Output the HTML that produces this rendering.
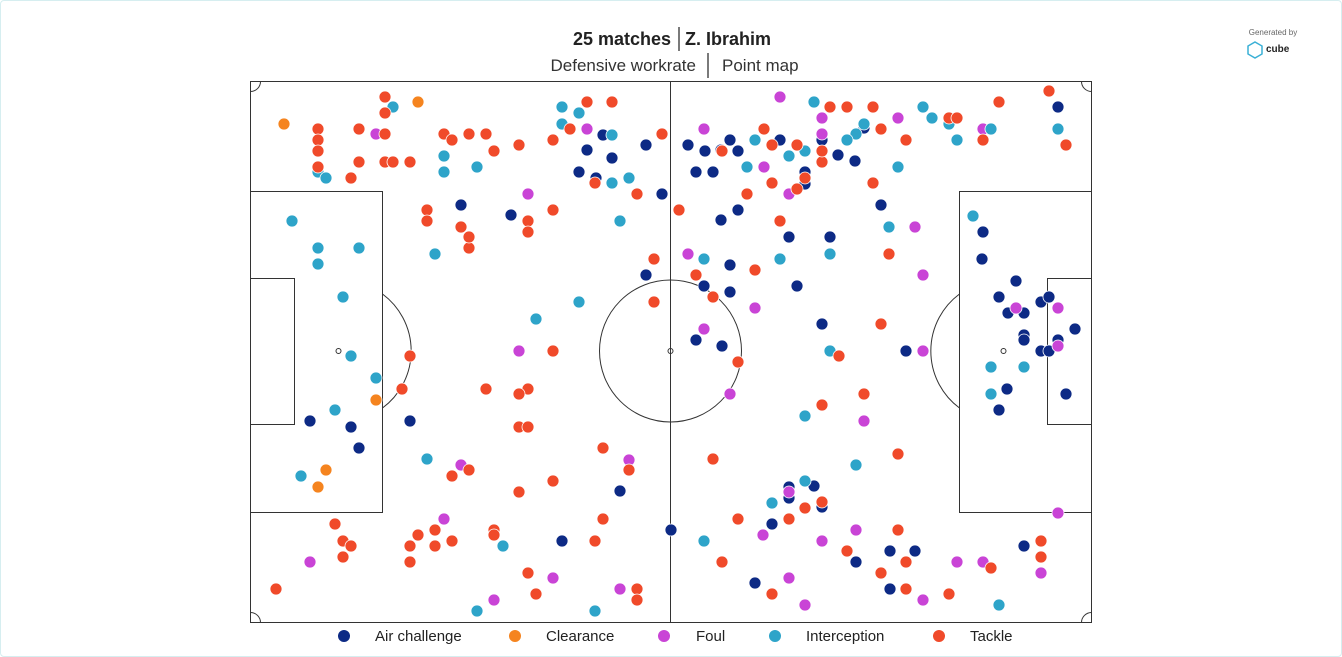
<!DOCTYPE html>
<html><head><meta charset="utf-8"><style>
html,body{margin:0;padding:0;background:#fff;}
body{width:1342px;height:657px;overflow:hidden;position:relative;font-family:"Liberation Sans",sans-serif;}
.frame{position:absolute;left:0;top:0;width:1340px;height:655px;border:1px solid #d6eef0;border-radius:4px;}
</style></head><body>
<div class="frame"></div>
<svg id="s" width="1342" height="657" style="position:absolute;left:0;top:0">
<text x="622" y="45" text-anchor="middle" font-size="18" font-weight="bold" fill="#222">25 matches</text>
<line x1="679" y1="27" x2="679" y2="51" stroke="#222" stroke-width="1.2"/>
<text x="685" y="45" font-size="18" font-weight="bold" fill="#222">Z. Ibrahim</text>
<text x="696" y="71" text-anchor="end" font-size="17" fill="#333">Defensive workrate</text>
<line x1="708" y1="53" x2="708" y2="78" stroke="#222" stroke-width="1.2"/>
<text x="722" y="71" font-size="17" fill="#333">Point map</text>
<text x="1273" y="35" text-anchor="middle" font-size="8" fill="#666">Generated by</text>
<polygon points="1255,42 1262,46 1262,54 1255,58 1248,54 1248,46" fill="none" stroke="#3ab0d6" stroke-width="1.5"/>
<text x="1266" y="52" font-size="10" font-weight="bold" fill="#222">cube</text>
<g fill="none" stroke="#333" stroke-width="1">
<rect x="250.5" y="81.5" width="841" height="541"/>
<line x1="670.5" y1="81" x2="670.5" y2="622"/>
<circle cx="670.5" cy="351" r="71"/>
<rect x="250.5" y="191.5" width="132" height="321"/>
<rect x="250.5" y="278.5" width="44" height="146"/>
<rect x="959.5" y="191.5" width="132" height="321"/>
<rect x="1047.5" y="278.5" width="44" height="146"/>
<path d="M382.5 294 A71 71 0 0 1 382.5 408"/>
<path d="M959.5 294 A71 71 0 0 0 959.5 408"/>
<path d="M250.5 91.5 A10 10 0 0 0 260.5 81.5"/>
<path d="M1081.5 81.5 A10 10 0 0 0 1091.5 91.5"/>
<path d="M250.5 612.5 A10 10 0 0 1 260.5 622.5"/>
<path d="M1081.5 622.5 A10 10 0 0 1 1091.5 612.5"/>
<circle cx="338.5" cy="351" r="2.5"/>
<circle cx="670.5" cy="351" r="2.5"/>
<circle cx="1003.5" cy="351" r="2.5"/>
</g>
<g id="dots"></g>
<g font-size="15" fill="#222">
<circle cx="344" cy="636" r="6" fill="#0d2a85"/><text x="375" y="641">Air challenge</text>
<circle cx="515" cy="636" r="6" fill="#f5841f"/><text x="546" y="641">Clearance</text>
<circle cx="664" cy="636" r="6" fill="#c944d6"/><text x="696" y="641">Foul</text>
<circle cx="775" cy="636" r="6" fill="#2ea4c9"/><text x="806" y="641">Interception</text>
<circle cx="939" cy="636" r="6" fill="#f04a2a"/><text x="970" y="641">Tackle</text>
</g>
</svg>
<script>
var D={
"#0d2a85":[603,135,587,150,612,158,579,172,596,178,646,145,662,194,511,215,461,205,310,421,351,427,359,448,410,421,562,541,620,491,671,530,688,145,705,151,721,150,730,140,738,151,780,140,696,172,713,172,805,172,805,184,838,155,855,161,864,128,881,205,738,210,721,220,789,237,830,237,704,286,730,265,730,292,797,286,822,324,696,340,722,346,646,275,755,583,772,524,789,487,814,486,822,507,856,562,890,551,915,551,890,589,906,351,983,232,982,259,999,297,1016,281,1008,313,1024,313,1024,335,1024,340,1041,302,1049,297,1041,351,1049,351,1058,340,1075,329,1066,394,1007,389,999,410,1024,546,1058,107,822,140,847,140,789,498],
"#f5841f":[284,124,418,102,376,400,326,470,318,487],
"#c944d6":[376,134,528,194,587,129,704,129,780,97,822,118,822,134,898,118,983,129,764,167,789,194,915,227,923,275,688,254,755,308,704,329,730,394,923,351,1016,308,1058,308,1058,346,519,351,461,465,629,460,444,519,310,562,494,600,553,578,620,589,763,535,789,578,805,605,789,492,822,541,856,530,864,421,957,562,983,562,923,600,1041,573,1058,513],
"#2ea4c9":[393,107,562,107,579,113,562,124,612,135,612,183,629,178,444,156,444,172,477,167,318,172,326,178,292,221,318,248,318,264,359,248,343,297,351,356,376,378,335,410,301,476,435,254,427,459,536,319,579,302,620,221,503,546,477,611,595,611,704,259,780,259,830,254,889,227,814,102,856,134,864,124,847,140,898,167,923,107,932,118,949,124,957,140,991,129,1058,129,755,140,789,156,805,151,747,167,973,216,830,351,991,367,991,394,1024,367,805,416,856,465,772,503,805,481,704,541,999,605],
"#f04a2a":[385,97,385,113,359,129,385,134,318,129,318,140,318,151,318,167,351,178,359,162,385,162,393,162,410,162,444,134,452,140,469,134,486,134,494,151,519,145,553,140,570,129,587,102,612,102,595,183,637,194,662,134,427,210,427,221,461,227,469,248,469,237,528,221,528,232,553,210,654,259,654,302,679,210,696,275,713,297,738,362,755,270,780,221,797,189,805,178,772,183,747,194,722,151,764,129,772,145,797,145,822,162,830,107,847,107,873,107,881,129,822,151,906,140,873,183,889,254,881,324,839,356,864,394,822,405,898,454,949,118,957,118,983,140,999,102,1049,91,1066,145,410,356,402,389,553,351,486,389,528,389,519,394,519,427,528,427,553,481,603,448,629,470,469,470,452,476,519,492,603,519,595,541,528,573,536,594,637,589,637,600,494,530,494,535,452,541,435,530,418,535,410,546,410,562,435,546,335,524,343,541,351,546,343,557,276,589,713,459,738,519,722,562,772,594,789,519,805,508,822,502,847,551,881,573,898,530,906,562,906,589,949,594,991,568,1041,541,1041,557]};
var g=document.getElementById('dots'),h='';
for(var c in D){var a=D[c];for(var i=0;i<a.length;i+=2)h+='<circle cx="'+a[i]+'" cy="'+a[i+1]+'" r="6" fill="'+c+'" stroke="#fff" stroke-width="0.8"/>';}
g.innerHTML=h;
</script>
</body></html>
